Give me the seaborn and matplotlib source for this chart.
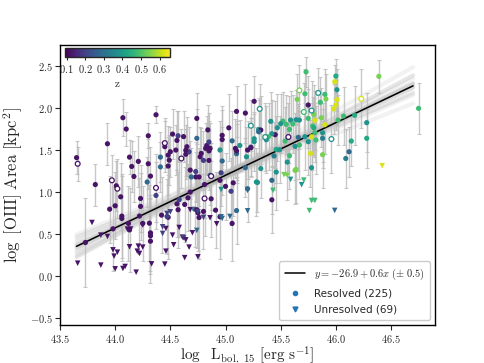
import numpy as np
import pandas as pd
import matplotlib
matplotlib.use("Agg")
import matplotlib.pyplot as plt
from matplotlib.ticker import FuncFormatter
from matplotlib.lines import Line2D
import seaborn as sns

sns.set_style("ticks")
plt.rcParams['mathtext.fontset'] = 'cm'
plt.rcParams['font.family'] = ['DejaVu Sans']

# redshift colours
P, PB, B, BT, T, TG, G, LG, Y = 0.12, 0.20, 0.28, 0.33, 0.38, 0.43, 0.48, 0.54, 0.62

# resolved sources (filled circles)
res_x = [44.07, 44.37, 44.10, 43.93, 43.65, 44.30, 44.13, 44.21, 44.15, 44.30,
         44.17, 43.82, 44.01, 44.32, 44.29, 44.41, 44.45, 44.48, 44.49, 44.48,
         44.52, 44.57, 44.56, 44.62, 44.50, 44.55, 44.64, 44.65, 44.67, 44.74,
         44.74, 44.73, 44.73, 44.78, 44.83, 44.85, 44.97, 45.03, 45.06, 45.09,
         45.10, 45.18, 45.13, 45.10, 45.26, 44.95, 44.97, 44.96, 45.20, 45.29,
         45.05, 45.10, 45.06, 44.41, 44.37, 44.23, 44.23, 44.22, 44.05, 44.00,
         43.95, 44.06, 44.06, 44.12, 44.25, 44.13, 44.32, 44.32, 44.42, 44.48,
         44.47, 44.56, 44.57, 44.58, 44.66, 44.63, 44.68, 44.72, 44.74, 44.75,
         44.80, 44.76, 44.87, 44.91, 44.95, 43.73, 43.98, 44.31, 44.32, 45.42,
         44.84, 44.85, 44.86, 44.82, 44.64, 44.77, 44.80, 44.85, 44.97, 45.10,
         45.23, 45.26, 45.30, 45.19, 45.18, 45.32, 45.28, 45.42, 45.20, 44.68,
         44.69, 44.76, 44.86, 44.81, 44.95, 45.00, 45.07,
         45.73, 46.39, 46.75, 46.00, 45.99, 46.01, 46.01, 46.00, 45.98, 46.02,
         46.07, 46.17, 46.28, 46.28, 46.14, 46.12, 46.09, 45.72, 45.90, 45.91,
         45.86, 45.75, 45.26, 45.65, 45.80, 45.75, 45.81, 45.87, 45.90, 45.79,
         45.80, 45.81, 45.88, 45.88, 45.78, 45.82, 45.72, 45.75, 45.67, 45.63,
         45.66, 45.54, 45.58, 45.55, 45.52, 45.50, 45.47, 45.59, 45.64, 45.67,
         45.61, 45.45, 45.42, 45.39, 45.37, 45.32, 45.30, 45.41, 45.46, 45.49,
         45.44, 45.58, 45.56, 45.64, 45.63, 45.77, 45.78, 45.88, 45.46, 45.23]
res_y = [1.885, 1.92, 1.75, 1.575, 1.41, 1.67, 1.416, 1.365, 1.305, 1.337,
         1.186, 1.09, 1.075, 1.19, 1.12, 1.416, 1.54, 1.44, 1.38, 1.31,
         1.69, 1.67, 1.615, 1.66, 1.48, 1.50, 1.45, 1.54, 1.48, 1.877,
         1.64, 1.245, 1.18, 1.46, 1.555, 1.49, 1.675, 1.765, 1.61, 1.52,
         1.96, 1.94, 1.555, 1.456, 1.60, 1.50, 1.37, 1.23, 1.50, 1.115,
         1.01, 0.78, 0.627, 1.30, 0.96, 0.924, 0.83, 0.715, 0.944, 0.837,
         0.797, 0.714, 0.686, 0.627, 0.627, 0.55, 0.515, 0.48, 0.726, 0.70,
         0.71, 0.86, 0.79, 0.91, 0.932, 0.853, 1.00, 0.797, 0.79, 0.754,
         0.77, 0.698, 0.92, 0.785, 0.706, 0.40, 0.563, 0.63, 0.416, 0.908,
         1.74, 1.596, 1.52, 1.52, 1.497, 1.42, 1.377, 1.377, 1.625, 1.49,
         1.536, 1.635, 1.746, 1.42, 1.29, 1.28, 1.12, 1.14, 1.04, 1.262,
         1.18, 1.18, 1.20, 1.09, 1.14, 1.068, 1.11,
         2.43, 2.377, 1.996, 2.38, 2.314, 2.218, 2.10, 2.036, 1.99, 1.857,
         1.905, 1.913, 1.826, 1.64, 1.607, 1.48, 1.40, 2.17, 2.163, 2.108,
         2.068, 2.036, 2.08, 2.103, 1.925, 1.877, 1.854, 1.885, 1.802, 1.786,
         1.766, 1.706, 1.706, 1.64, 1.659, 1.62, 1.659, 1.60, 1.56, 1.544,
         1.651, 1.607, 1.746, 1.806, 1.845, 1.814, 1.766, 1.857, 1.861, 1.857,
         1.81, 1.683, 1.695, 1.659, 1.623, 1.738, 1.718, 1.842, 1.508, 1.504,
         1.43, 1.433, 1.357, 1.27, 1.258, 1.461, 1.29, 1.445, 1.238, 1.528]
res_z = [P, P, P, P, P, P, P, P, P, P,
         P, P, P, P, B, B, P, P, P, P,
         P, PB, P, P, P, P, P, P, PB, P,
         B, PB, P, P, P, P, P, P, B, P,
         P, P, T, B, T, T, B, PB, P, T,
         PB, B, P, B, PB, P, P, P, P, P,
         P, P, P, P, P, P, P, P, P, P,
         PB, P, P, PB, P, P, P, B, P, P,
         P, P, P, P, P, P, P, P, P, P,
         P, PB, P, P, P, P, PB, P, P, P,
         B, T, T, T, B, T, T, B, B, P,
         B, P, B, P, P, P, P,
         G, LG, G, TG, Y, T, Y, Y, Y, G,
         G, TG, T, TG, TG, B, BT, G, G, LG,
         G, P, P, LG, LG, G, Y, LG, Y, G,
         TG, G, T, BT, Y, G, T, T, G, T,
         B, G, G, G, G, T, T, T, T, T,
         G, P, T, G, T, P, B, T, TG, T,
         BT, G, T, LG, LG, Y, T, LG, T, P]
res_err = [0.22, 0.10, 0.20, 0.25, 0.20, 0.15, 0.20, 0.30, 0.30, 0.30,
           0.30, 0.25, 0.30, 0.35, 0.30, 0.30, 0.30, 0.35, 0.30, 0.35,
           0.30, 0.30, 0.35, 0.30, 0.30, 0.30, 0.30, 0.35, 0.30, 0.30,
           0.35, 0.35, 0.30, 0.30, 0.35, 0.35, 0.35, 0.40, 0.35, 0.35,
           0.30, 0.35, 0.30, 0.35, 0.35, 0.35, 0.40, 0.40, 0.35, 0.35,
           0.40, 0.40, 0.45, 0.30, 0.40, 0.40, 0.40, 0.45, 0.40, 0.40,
           0.40, 0.50, 0.50, 0.45, 0.45, 0.50, 0.45, 0.45, 0.45, 0.50,
           0.45, 0.40, 0.45, 0.45, 0.40, 0.45, 0.45, 0.45, 0.45, 0.45,
           0.45, 0.50, 0.45, 0.45, 0.50, 0.53, 0.50, 0.45, 0.50, 0.40,
           0.30, 0.35, 0.30, 0.30, 0.30, 0.35, 0.35, 0.35, 0.35, 0.35,
           0.35, 0.30, 0.35, 0.35, 0.35, 0.35, 0.40, 0.40, 0.40, 0.35,
           0.35, 0.35, 0.35, 0.40, 0.40, 0.40, 0.40,
           0.18, 0.20, 0.30, 0.20, 0.20, 0.25, 0.30, 0.30, 0.30, 0.30,
           0.35, 0.35, 0.35, 0.35, 0.30, 0.30, 0.35, 0.30, 0.30, 0.30,
           0.30, 0.35, 0.30, 0.30, 0.35, 0.35, 0.35, 0.35, 0.35, 0.35,
           0.35, 0.35, 0.35, 0.35, 0.40, 0.40, 0.40, 0.40, 0.40, 0.40,
           0.40, 0.40, 0.40, 0.35, 0.35, 0.35, 0.40, 0.35, 0.35, 0.35,
           0.35, 0.40, 0.40, 0.40, 0.40, 0.40, 0.40, 0.35, 0.40, 0.40,
           0.40, 0.40, 0.45, 0.40, 0.40, 0.40, 0.40, 0.40, 0.45, 0.35]

# resolved sources drawn as open circles
open_x = [43.66, 43.97, 44.02, 44.37, 44.45, 44.60, 44.81, 44.87, 45.23, 45.31,
          46.23, 45.96, 45.67, 45.84, 45.71, 45.78, 45.57, 45.36]
open_y = [1.337, 1.14, 1.04, 1.05, 1.583, 1.40, 0.924, 1.19, 1.79, 1.99,
          2.11, 1.631, 2.21, 2.18, 1.953, 1.97, 1.655, 1.655]
open_z = [P, P, P, P, P, P, P, P, T, T,
          Y, T, LG, T, G, T, P, T]
open_err = [0.20, 0.30, 0.35, 0.40, 0.30, 0.35, 0.45, 0.40, 0.30, 0.30,
            0.35, 0.40, 0.30, 0.30, 0.35, 0.35, 0.40, 0.40]

# unresolved sources (triangles)
unres_x = [43.66, 43.79, 43.87, 43.93, 43.87, 43.98, 43.99, 44.02, 44.00, 44.07,
           44.09, 44.13, 44.19, 44.21, 44.20, 44.22, 44.25, 44.32, 44.33, 44.46,
           44.45, 44.11, 44.14, 44.25, 44.43, 44.46, 44.43, 44.52, 44.53, 44.61,
           44.62, 44.70, 44.74, 44.67, 44.75, 44.58, 44.64, 44.68, 44.75, 44.80,
           44.86, 44.92, 44.96, 44.97, 45.04, 45.20, 45.20, 44.47, 44.50, 44.63,
           45.43, 45.78, 45.76, 45.81, 44.96, 45.53, 45.56, 45.59, 45.71, 45.69,
           46.42, 45.99]
unres_y = [0.154, 0.638, 0.488, 0.472, 0.131, 0.313, 0.238, 0.285, 0.087, 0.091,
           0.115, 0.349, 0.047, 0.357, 0.297, 0.27, 0.345, 0.484, 0.146, 0.297,
           0.143, 0.56, 0.56, 0.607, 0.508, 0.567, 0.587, 0.488, 0.373, 0.464,
           0.456, 0.516, 0.544, 0.345, 0.23, 0.579, 0.432, 0.79, 0.765, 0.70,
           0.694, 0.623, 0.706, 0.686, 0.71, 0.777, 1.02, 0.746, 0.765, 0.22,
           1.02, 0.90, 0.78, 0.90, 1.03, 1.207, 1.20, 1.151, 1.143, 1.088,
           1.314, 0.782]
unres_z = [P, P, P, P, P, P, P, P, P, P,
           P, P, P, P, P, P, P, P, P, P,
           P, P, P, P, PB, P, PB, P, P, P,
           PB, P, B, P, P, P, P, P, PB, PB,
           P, P, B, B, B, B, B, PB, PB, P,
           G, G, G, G, T, LG, LG, T, G, T,
           Y, B]

# linear fit and spread of resampled fits
fit_a, fit_b = -26.97, 0.626
fit_range = [43.65, 46.70]
pivot_x = 45.1
sample_slopes = [0.52, 0.55, 0.57, 0.59, 0.60, 0.61, 0.62, 0.63, 0.64, 0.65,
                 0.66, 0.67, 0.69, 0.71, 0.74]
sample_shifts = [-0.04, 0.03, -0.02, 0.04, -0.03, 0.01, -0.01, 0.02, 0.0, -0.02,
                 0.03, -0.04, 0.02, -0.01, 0.04]

zmin, zmax = 0.09, 0.655
cmap = plt.get_cmap('viridis')
norm = plt.Normalize(zmin, zmax)

res = pd.DataFrame({'x': res_x, 'y': res_y, 'z': res_z, 'err': res_err})
unres = pd.DataFrame({'x': unres_x, 'y': unres_y, 'z': unres_z})
opn = pd.DataFrame({'x': open_x, 'y': open_y, 'z': open_z, 'err': open_err})

fig = plt.figure(figsize=(4.84, 3.63), dpi=100)
ax = fig.add_axes([0.124, 0.105, 0.775, 0.771])

# spread of fits
xx = np.array(fit_range)
y0 = fit_a + fit_b * pivot_x
for s, d in zip(sample_slopes, sample_shifts):
    ax.plot(xx, y0 + d + s * (xx - pivot_x), color='gray', alpha=0.1, lw=3, zorder=1)

# error bars
ax.errorbar(res['x'], res['y'], yerr=res['err'], fmt='none', ecolor='#bbbbbb',
            elinewidth=1.0, capsize=1.5, capthick=0.8, alpha=0.8, zorder=2)
ax.errorbar(opn['x'], opn['y'], yerr=opn['err'], fmt='none', ecolor='#bbbbbb',
            elinewidth=1.0, capsize=1.5, capthick=0.8, alpha=0.8, zorder=2)

ax.plot(xx, fit_a + fit_b * xx, color='black', lw=1.1, zorder=3)

sns.scatterplot(data=res, x='x', y='y', hue='z', palette='viridis', hue_norm=norm,
                marker='o', s=14, linewidth=0, legend=False, ax=ax, zorder=4)
sns.scatterplot(data=unres, x='x', y='y', hue='z', palette='viridis', hue_norm=norm,
                marker='v', s=16, linewidth=0, legend=False, ax=ax, zorder=4)
ax.scatter(opn['x'], opn['y'], s=12, facecolors='white',
           edgecolors=cmap(norm(opn['z'])), linewidths=0.9, zorder=4)

ax.set_xlim(43.5, 46.9)
ax.set_ylim(-0.58, 2.75)
ax.set_xticks([43.5, 44.0, 44.5, 45.0, 45.5, 46.0, 46.5])
ax.set_yticks([-0.5, 0.0, 0.5, 1.0, 1.5, 2.0, 2.5])
fmt = FuncFormatter(lambda v, p: f'${v:.1f}$')
ax.xaxis.set_major_formatter(fmt)
ax.yaxis.set_major_formatter(fmt)
ax.tick_params(labelsize=7.5, length=3.5, width=0.8, pad=2)
for sp in ax.spines.values():
    sp.set_linewidth(1.0)
    sp.set_color('black')

ax.set_xlabel(r'$\log\ \ \mathrm{L_{bol,\ 15}\ [erg\ s^{-1}]}$', fontsize=11, labelpad=0)
ax.set_ylabel(r'$\log\ [\mathrm{OIII}]\ \mathrm{Area\ [kpc^{2}]}$', fontsize=12, labelpad=3)

handles = [Line2D([0], [0], color='black', lw=1.1),
           Line2D([0], [0], marker='o', color='C0', ls='none', markersize=3),
           Line2D([0], [0], marker='v', color='C0', ls='none', markersize=3.5)]
labels = [r'$y = -26.9 + 0.6x\ (\pm\ 0.5)$', 'Resolved (225)', 'Unresolved (69)']
ax.legend(handles, labels, loc='lower right', fontsize=7.5, frameon=True,
          handlelength=2.0, borderpad=0.5, labelspacing=0.6, framealpha=1)

# colour bar inset
cax = fig.add_axes([0.134, 0.843, 0.217, 0.025])
sm = plt.cm.ScalarMappable(norm=norm, cmap=cmap)
cb = fig.colorbar(sm, cax=cax, orientation='horizontal')
cb.set_ticks([0.1, 0.2, 0.3, 0.4, 0.5, 0.6])
cb.ax.xaxis.set_major_formatter(fmt)
cb.ax.tick_params(labelsize=7.5, length=2.5, width=0.8, pad=2)
cb.set_label(r'$\mathrm{z}$', fontsize=8, labelpad=3)
cb.outline.set_linewidth(1.0)

fig.savefig('out.png', dpi=100)
